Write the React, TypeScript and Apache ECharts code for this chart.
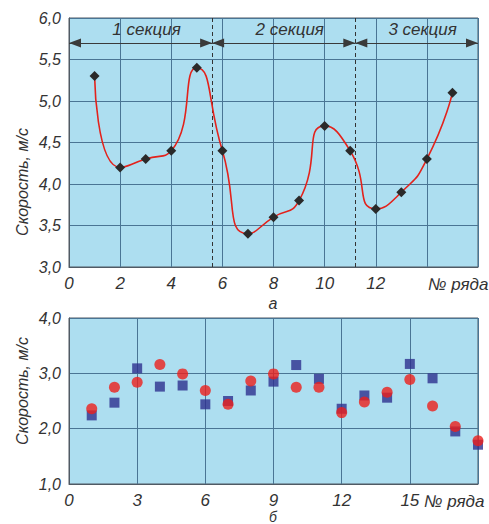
import React, { useEffect, useRef } from "react";
import * as echarts from "echarts";

// ---- data ----
const rowsA = [1, 2, 3, 4, 5, 6, 7, 8, 9, 10, 11, 12, 13, 14, 15];
const speedA = [5.3, 4.2, 4.3, 4.4, 5.4, 4.4, 3.4, 3.6, 3.8, 4.7, 4.4, 3.7, 3.9, 4.3, 5.1];

const rowsB = [1, 2, 3, 4, 5, 6, 7, 8, 9, 10, 11, 12, 13, 14, 15, 16, 17, 18];
const squaresB = [2.24, 2.47, 3.09, 2.76, 2.78, 2.44, 2.5, 2.69, 2.85, 3.15, 2.9, 2.36, 2.6, 2.56, 3.17, 2.91, 1.95, 1.71];
const circlesB = [2.36, 2.75, 2.84, 3.16, 2.99, 2.69, 2.44, 2.86, 2.99, 2.75, 2.75, 2.29, 2.48, 2.66, 2.89, 2.41, 2.04, 1.78];

const yRangeA = [3, 6];
const sectionBounds = [0, 5.6, 11.2, 16];
const sectionNames = ["1 секция", "2 секция", "3 секция"];
const arrowLevel = 5.7;

const yTitle = "Скорость, м/с";
const xTitle = "№ ряда";

const FONT = "'Liberation Sans', Arial, sans-serif";
const TXT = "#333";
const GRIDC = "#4a7594";
const BORDER = "#505a64";
const BG = "#addef0";

const comma = (v: number) => v.toFixed(1).replace(".", ",");

export default function App() {
  const ref = useRef<HTMLDivElement>(null);
  useEffect(() => {
    document.body.style.margin = "0";
    const chart = echarts.init(ref.current!, null, { renderer: "svg" });

    const arrowLines = sectionNames.map((name, i) => [
      { coord: [sectionBounds[i], arrowLevel], symbol: "triangle" },
      { coord: [sectionBounds[i + 1], arrowLevel], symbol: "triangle" },
    ]);
    const dashedLines = sectionBounds.slice(1, -1).map((b) => [
      { coord: [b, yRangeA[0]], symbol: "none", lineStyle: { type: [4, 3], color: "#333" } },
      { coord: [b, yRangeA[1]], symbol: "none" },
    ]);
    const labelPoints = sectionNames.map((name, i) => ({
      coord: [(sectionBounds[i] + sectionBounds[i + 1]) / 2, arrowLevel],
      value: name,
    }));

    const axisLabelStyle = {
      color: TXT,
      fontFamily: FONT,
      fontStyle: "italic" as const,
    };

    chart.setOption({
      animation: false,
      backgroundColor: "#ffffff",
      grid: [
        { left: 69, top: 18, width: 409, height: 249, show: true, backgroundColor: BG, borderColor: BORDER, borderWidth: 1 },
        { left: 69, top: 318, width: 409, height: 166, show: true, backgroundColor: BG, borderColor: BORDER, borderWidth: 1 },
      ],
      xAxis: [
        {
          gridIndex: 0, type: "value", min: 0, max: 16, interval: 2,
          axisLine: { show: true, lineStyle: { color: BORDER } },
          axisTick: { show: false },
          splitLine: { show: true, lineStyle: { color: GRIDC, width: 1 } },
          axisLabel: { ...axisLabelStyle, fontSize: 17, margin: 8, formatter: (v: number) => (v <= 12 ? String(v) : "") },
        },
        {
          gridIndex: 1, type: "value", min: 0, max: 18, interval: 3,
          axisLine: { show: true, lineStyle: { color: BORDER } },
          axisTick: { show: false },
          splitLine: { show: true, lineStyle: { color: GRIDC, width: 1 } },
          axisLabel: { ...axisLabelStyle, fontSize: 17, margin: 8, formatter: (v: number) => (v <= 15 ? String(v) : "") },
        },
      ],
      yAxis: [
        {
          gridIndex: 0, type: "value", min: yRangeA[0], max: yRangeA[1], interval: 0.5,
          axisLine: { show: true, lineStyle: { color: BORDER } },
          axisTick: { show: false },
          splitLine: { show: true, lineStyle: { color: GRIDC, width: 1 } },
          axisLabel: { ...axisLabelStyle, fontSize: 16, margin: 8, formatter: comma },
        },
        {
          gridIndex: 1, type: "value", min: 1, max: 4, interval: 1,
          axisLine: { show: true, lineStyle: { color: BORDER } },
          axisTick: { show: false },
          splitLine: { show: true, lineStyle: { color: GRIDC, width: 1 } },
          axisLabel: { ...axisLabelStyle, fontSize: 16, margin: 8, formatter: comma },
        },
      ],
      series: [
        {
          type: "line",
          xAxisIndex: 0, yAxisIndex: 0,
          data: rowsA.map((r, i) => [r, speedA[i]]),
          smooth: 0.6,
          symbol: "diamond",
          symbolSize: 10,
          itemStyle: { color: "#2a2a2a" },
          lineStyle: { color: "#e3221c", width: 1.6 },
          z: 5,
          markLine: {
            silent: true,
            symbol: ["triangle", "triangle"],
            symbolSize: [9, 12],
            symbolOffset: [[0, 6], [0, 6]],
            lineStyle: { color: "#3a3a3a", width: 1, type: "solid" },
            itemStyle: { color: "#3a3a3a" },
            label: { show: false },
            data: [...dashedLines, ...arrowLines],
          },
          markPoint: {
            silent: true,
            symbol: "circle",
            symbolSize: 0,
            label: {
              show: true,
              formatter: (p: any) => p.value,
              color: TXT,
              fontFamily: FONT,
              fontStyle: "italic",
              fontSize: 17,
              position: "top",
              distance: 5,
              offset: [6, 0],
            },
            data: labelPoints,
          },
        },
        {
          type: "scatter",
          xAxisIndex: 1, yAxisIndex: 1,
          data: rowsB.map((r, i) => [r, squaresB[i]]),
          symbol: "rect",
          symbolSize: 10,
          itemStyle: { color: "#2d2f8e" },
          clip: false,
        },
        {
          type: "scatter",
          xAxisIndex: 1, yAxisIndex: 1,
          data: rowsB.map((r, i) => [r, circlesB[i]]),
          symbol: "circle",
          symbolSize: 11,
          itemStyle: { color: "#ec1f1c" },
          clip: false,
        },
      ],
      graphic: [
        { type: "text", x: 22, y: 182, rotation: Math.PI / 2, style: { text: yTitle, fill: TXT, font: `italic 16px ${FONT}`, align: "center", verticalAlign: "middle" } },
        { type: "text", x: 22, y: 391, rotation: Math.PI / 2, style: { text: yTitle, fill: TXT, font: `italic 16px ${FONT}`, align: "center", verticalAlign: "middle" } },
        { type: "text", x: 428, y: 284, style: { text: xTitle, fill: TXT, font: `italic 17px ${FONT}`, align: "left", verticalAlign: "middle" } },
        { type: "text", x: 424, y: 501, style: { text: xTitle, fill: TXT, font: `italic 17px ${FONT}`, align: "left", verticalAlign: "middle" } },
        { type: "text", x: 273, y: 303, style: { text: "а", fill: TXT, font: `italic 16px ${FONT}`, align: "center", verticalAlign: "middle" } },
        { type: "text", x: 273, y: 517, style: { text: "б", fill: TXT, font: `italic 14px ${FONT}`, align: "center", verticalAlign: "middle" } },
      ],
    });
    return () => chart.dispose();
  }, []);
  return <div ref={ref} style={{ width: 489, height: 524 }} />;
}
